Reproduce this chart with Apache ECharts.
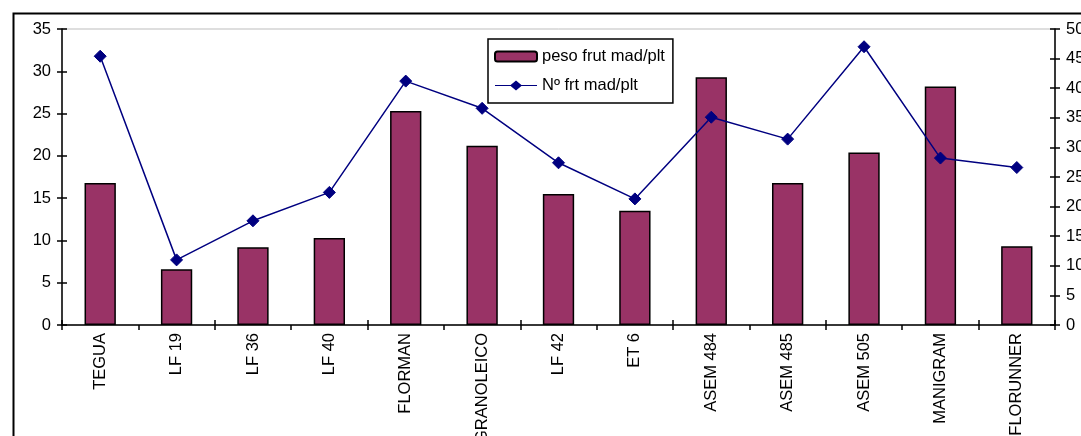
<!DOCTYPE html>
<html><head><meta charset="utf-8">
<script src="https://cdn.jsdelivr.net/npm/echarts@6/dist/echarts.min.js"></script>
<style>html,body{margin:0;padding:0;background:#fff}#c{width:1081px;height:436px}</style>
</head><body><div id="c"></div>
<script>
const categories = ['TEGUA','LF 19','LF 36','LF 40','FLORMAN','GRANOLEICO','LF 42','ET 6','ASEM 484','ASEM 485','ASEM 505','MANIGRAM','FLORUNNER'];
const pesoFrut = [16.8, 6.6, 9.2, 10.3, 25.3, 21.2, 15.5, 13.5, 29.3, 16.8, 20.4, 28.2, 9.3];
const nFrt = [45.4, 11.0, 17.6, 22.4, 41.2, 36.6, 27.4, 21.3, 35.1, 31.4, 47.0, 28.2, 26.6];
const seriesNames = ['peso frut mad/plt', 'Nº frt mad/plt'];

const font = 'Liberation Sans, Arial, sans-serif';
const chart = echarts.init(document.getElementById('c'), null, {renderer: 'canvas'});
const axisLine = {show: true, lineStyle: {color: '#000', width: 1.5}};
chart.setOption({
  animation: false,
  backgroundColor: '#fff',
  textStyle: {fontFamily: font},
  graphic: [{type: 'rect', left: 11, top: 11, shape: {width: 1200, height: 600}, style: {fill: 'none', stroke: '#000', lineWidth: 2}, silent: true, z: 100}],
  grid: {left: 62, right: 26, top: 29, bottom: 111, containLabel: false, outerBoundsMode: 'none', show: true, borderColor: '#bdbdbd', borderWidth: 1, backgroundColor: '#fff'},
  legend: {
    left: 488, top: 39, orient: 'vertical', itemWidth: 42, itemHeight: 10, itemGap: 12,
    padding: [9, 8, 9, 6], borderColor: '#000', borderWidth: 1.5, backgroundColor: '#fff',
    textStyle: {fontSize: 16.5, color: '#000', fontFamily: font},
    data: [
      {name: seriesNames[0]},
      {name: seriesNames[1], icon: 'path://M0,4.4L42,4.4L42,5.6L0,5.6Z M21,0L27,5L21,10L15,5Z', itemStyle: {color: '#000080', borderWidth: 0}}
    ]
  },
  xAxis: [{
    type: 'category', data: categories, boundaryGap: true,
    axisLine: axisLine,
    axisTick: {show: true, length: 5, alignWithLabel: false, lineStyle: {color: '#000', width: 1.5}},
    axisLabel: {rotate: 90, interval: 0, margin: 8, fontSize: 16.5, color: '#000', fontFamily: font}
  }, {
    type: 'category', data: categories, boundaryGap: true, position: 'bottom',
    axisLine: {show: false}, axisLabel: {show: false},
    axisTick: {show: true, inside: true, length: 5, lineStyle: {color: '#000', width: 1.5}}
  }],
  yAxis: [{
    type: 'value', min: 0, max: 35, interval: 5, position: 'left',
    axisLine: axisLine, splitLine: {show: false},
    axisTick: {show: true, length: 5, lineStyle: {color: '#000', width: 1.5}},
    axisLabel: {margin: 11, fontSize: 16.5, color: '#000', fontFamily: font}
  }, {
    type: 'value', min: 0, max: 50, interval: 5, position: 'right',
    axisLine: axisLine, splitLine: {show: false},
    axisTick: {show: true, length: 5, lineStyle: {color: '#000', width: 1.5}},
    axisLabel: {margin: 11, fontSize: 16.5, color: '#000', fontFamily: font}
  }, {
    type: 'value', min: 0, max: 35, interval: 5, position: 'left',
    axisLine: {show: false}, splitLine: {show: false}, axisLabel: {show: false},
    axisTick: {show: true, inside: true, length: 5, lineStyle: {color: '#000', width: 1.5}}
  }, {
    type: 'value', min: 0, max: 50, interval: 5, position: 'right',
    axisLine: {show: false}, splitLine: {show: false}, axisLabel: {show: false},
    axisTick: {show: true, inside: true, length: 5, lineStyle: {color: '#000', width: 1.5}}
  }],
  series: [{
    name: seriesNames[0], type: 'bar', data: pesoFrut, yAxisIndex: 0, barWidth: '41%',
    itemStyle: {color: '#993366', borderColor: '#000', borderWidth: 1.5}
  }, {
    name: seriesNames[1], type: 'line', data: nFrt, yAxisIndex: 1,
    symbol: 'diamond', symbolSize: 12,
    lineStyle: {color: '#000080', width: 1.5},
    itemStyle: {color: '#000080', borderColor: '#000080'}
  }]
});
</script></body></html>
